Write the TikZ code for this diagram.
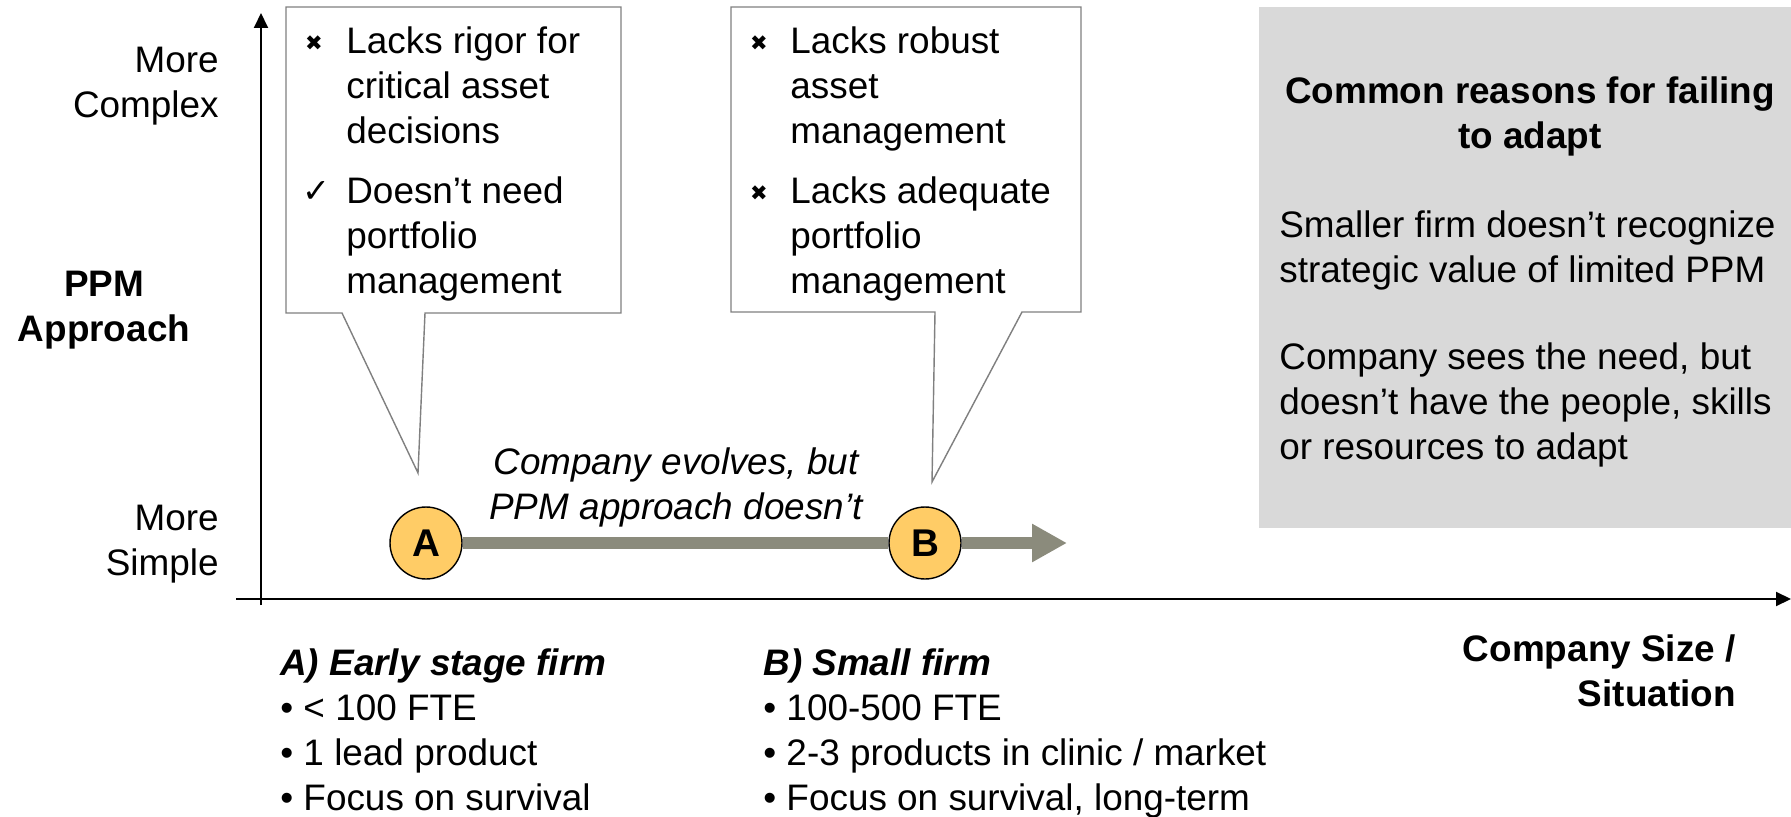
\documentclass[tikz,border=0pt]{standalone}
\usepackage{fontspec}
\setmainfont{Liberation Sans}
\newfontfamily\symfont{DejaVu Sans}
\usetikzlibrary{positioning,arrows.meta}

\definecolor{calloutgray}{RGB}{128,128,128}
\definecolor{boxgray}{RGB}{217,217,217}
\definecolor{stagefill}{RGB}{255,204,102}
\definecolor{evolvegray}{RGB}{139,139,124}

\newcommand{\nomark}{{\symfont\fontsize{12}{12}\selectfont ✖}}
\newcommand{\okmark}{{\symfont\fontsize{19}{19}\selectfont ✓}}

\begin{document}
\begin{tikzpicture}[
  x=0.02cm, y=-0.02cm,
  font=\fontsize{21}{25.6}\selectfont,
  txt/.style={inner sep=0pt, align=left, execute at begin node=\strut, execute at end node=\strut},
  hd/.style={txt, font=\fontsize{21}{25.6}\selectfont\bfseries},
  itemmark/.style={inner sep=0pt},
  axis/.style={line width=1.1pt, -{Triangle[length=0.3cm, width=0.28cm]}},
  callout/.style={draw=calloutgray, line width=0.8pt, fill=white, line join=miter},
  stage/.style={circle, draw=black, line width=0.8pt, fill=stagefill, minimum size=1.44cm,
                inner sep=0pt, font=\fontsize{22}{22}\selectfont\bfseries},
  evolve/.style={draw=evolvegray, line width=0.24cm}
]
\useasboundingbox (0,0) rectangle (1791,817);

% axes
\coordinate (yfoot) at (261,605);
\coordinate (ytop) at (261,13);
\coordinate (xfoot) at (236,599);
\coordinate (xtip) at (1791,599);
\draw[axis] (yfoot) -- (ytop);
\draw[axis] (xfoot) -- (xtip);

% axis labels
\node[txt, anchor=east, align=right] (complex) at (219,89.5) {More\\Complex};
\node[hd, align=center] (ppm) at (104,313.5) {PPM\\Approach};
\node[txt, anchor=east, align=right] (simple) at (219,547) {More\\Simple};
\node[hd, anchor=east, align=right] (size) at (1736,677) {Company Size /\\Situation};

% callout over A
\draw[callout] (286,7) -- (621,7) -- (621,313) -- (425,313) -- (418,473)
  -- (342,313) -- (286,313) -- cycle;
\node[itemmark] (amk1) at (314,43) {\nomark};
\node[txt, anchor=west] (ait1) at (346,92) {Lacks rigor for\\critical asset\\decisions};
\node[itemmark] (amk2) at (316,192) {\okmark};
\node[txt, anchor=west] (ait2) at (346,241.5) {Doesn’t need\\portfolio\\management};

% callout over B
\draw[callout] (731,7) -- (1081,7) -- (1081,312) -- (1022,312) -- (932,482)
  -- (935,312) -- (731,312) -- cycle;
\node[itemmark] (bmk1) at (759,43) {\nomark};
\node[txt, anchor=west] (bit1) at (790,92) {Lacks robust\\asset\\management};
\node[itemmark] (bmk2) at (759,193) {\nomark};
\node[txt, anchor=west] (bit2) at (790,241.5) {Lacks adequate\\portfolio\\management};

% stages and the arrow between them
\node[stage] (A) at (426,543) {A};
\node[stage] (B) at (925,543) {B};
\coordinate (tip) at (1067,543);
\draw[evolve] (A) -- (B);
\draw[evolve, -{Triangle[length=0.7cm, width=0.72cm]}] (B) -- (tip);
\node[txt, align=center, font=\fontsize{21}{25.6}\selectfont\itshape] (evolves) at (676,490)
  {Company evolves, but\\PPM approach doesn’t};

% reasons panel
\fill[boxgray] (1259,7) rectangle (1791,528);
\node[hd, align=center] (why) at (1530,119) {Common reasons for failing\\to adapt};
\node[txt, anchor=west] (why1) at (1279,253) {Smaller firm doesn’t recognize\\strategic value of limited PPM};
\node[txt, anchor=west] (why2) at (1279,408) {Company sees the need, but\\doesn’t have the people, skills\\or resources to adapt};

% stage descriptions
\node[txt, anchor=west] (descA) at (280,736) {\textbf{\textit{A) Early stage firm}}\\• < 100 FTE\\• 1 lead product\\• Focus on survival};
\node[txt, anchor=west] (descB) at (763,736) {\textbf{\textit{B) Small firm}}\\• 100-500 FTE\\• 2-3 products in clinic / market\\• Focus on survival, long-term};
\end{tikzpicture}
\end{document}
